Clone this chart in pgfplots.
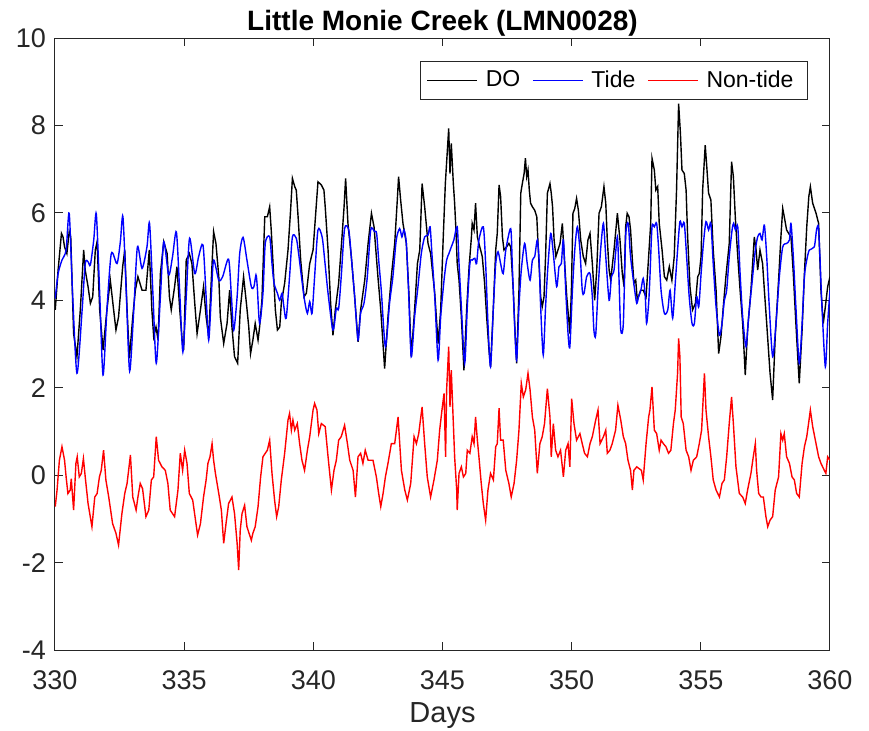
\documentclass[border=0pt]{standalone}
\usepackage{fontspec}
\setmainfont{Liberation Sans}
\usepackage{pgfplots}
\usepackage{pgfplotstable}
\pgfplotsset{compat=1.18}

\definecolor{axgray}{rgb}{0.15,0.15,0.15}

% Tidal component of dissolved oxygen
\pgfplotstableread{
d v
330.01 4.04
330.12 4.61
330.27 4.92
330.43 5.15
330.55 5.99
330.68 4.16
330.85 2.33
331.05 3.78
331.17 4.84
331.28 4.88
331.37 4.81
331.50 5.38
331.60 5.97
331.73 4.16
331.86 2.29
332.01 3.78
332.18 5.07
332.40 4.84
332.53 5.34
332.63 5.91
332.76 4.16
332.89 2.38
333.05 3.78
333.19 5.22
333.37 4.73
333.56 5.22
333.66 5.76
333.79 4.16
333.92 2.56
334.08 4.08
334.21 5.34
334.40 4.58
334.55 5.00
334.70 5.56
334.83 4.16
334.95 2.82
335.08 4.08
335.21 5.42
335.41 4.61
335.56 5.00
335.73 5.26
335.85 4.08
335.95 3.09
336.05 4.08
336.14 4.92
336.34 4.46
336.49 4.54
336.72 4.94
336.83 4.08
336.92 3.32
337.05 4.08
337.15 5.07
337.28 5.44
337.43 4.92
337.60 4.31
337.70 4.31
337.78 4.58
337.83 4.31
337.92 3.47
338.05 4.16
338.14 5.30
338.31 5.45
338.40 4.84
338.48 4.39
338.61 4.16
338.70 4.00
338.79 4.16
338.86 3.85
338.95 3.59
339.08 4.54
339.19 5.45
339.34 5.42
339.43 5.07
339.54 4.54
339.66 4.00
339.77 3.70
339.86 3.97
339.95 3.70
340.05 4.54
340.18 5.61
340.34 5.45
340.44 4.92
340.57 4.16
340.76 3.32
340.89 3.81
340.98 3.81
341.08 4.54
341.21 5.64
341.37 5.61
341.47 5.00
341.60 4.08
341.73 3.09
341.83 3.70
341.96 3.93
342.09 4.54
342.22 5.61
342.37 5.57
342.45 5.53
342.53 4.92
342.63 4.23
342.79 2.94
342.95 3.93
343.08 4.54
343.21 5.38
343.34 5.64
343.43 5.45
343.51 5.61
343.60 5.30
343.69 4.16
343.79 2.71
343.92 3.62
344.05 4.31
344.18 5.07
344.31 5.45
344.44 5.49
344.52 5.68
344.59 5.07
344.70 4.08
344.83 2.63
344.93 3.62
345.06 4.46
345.16 4.92
345.25 5.07
345.34 5.22
345.44 5.38
345.57 5.68
345.64 4.84
345.73 3.85
345.86 2.56
345.96 3.85
346.06 4.84
346.15 4.92
346.25 4.96
346.32 4.84
346.41 5.38
346.58 5.68
346.67 4.84
346.76 3.47
346.86 2.48
346.97 3.85
347.06 4.84
347.15 5.11
347.25 4.84
347.35 4.61
347.45 5.15
347.64 5.64
347.70 4.84
347.79 3.47
347.87 2.63
347.96 3.85
348.05 4.69
348.18 5.30
348.28 4.84
348.39 4.46
348.48 4.92
348.57 5.00
348.67 5.38
348.74 4.92
348.80 3.85
348.90 2.75
348.99 3.85
349.08 4.77
349.19 5.53
349.29 5.07
349.42 4.31
349.51 4.77
349.60 4.84
349.68 5.38
349.77 4.23
349.86 3.24
349.93 2.94
350.03 4.23
350.12 5.15
350.22 5.68
350.32 5.15
350.41 4.23
350.48 4.16
350.58 4.54
350.71 4.61
350.80 4.08
350.86 3.32
350.93 3.20
351.02 4.23
351.12 5.15
351.23 5.76
351.32 5.00
351.45 4.00
351.54 4.54
351.64 4.69
351.77 5.45
351.83 4.54
351.90 3.32
352.00 3.47
352.09 5.45
352.19 5.76
352.28 5.00
352.44 4.23
352.52 3.93
352.59 4.08
352.68 4.23
352.77 4.50
352.85 4.08
352.90 3.47
352.98 3.93
353.03 4.54
353.11 5.68
353.20 5.68
353.29 5.76
353.37 5.15
353.46 4.23
353.59 3.70
353.72 3.78
353.81 4.23
353.91 3.59
354.01 4.39
354.10 5.15
354.19 5.80
354.27 5.68
354.36 5.76
354.45 5.00
354.55 4.08
354.66 3.47
354.75 3.47
354.84 4.08
354.92 3.85
355.01 4.61
355.10 5.30
355.20 5.80
355.30 5.61
355.39 5.76
355.48 4.84
355.59 3.85
355.72 3.20
355.82 3.47
355.91 4.00
356.00 4.23
356.10 5.00
356.21 5.61
356.27 5.76
356.34 5.61
356.43 5.68
356.52 4.61
356.62 3.62
356.75 2.94
356.85 3.62
356.98 4.39
357.11 5.15
357.20 5.45
357.29 5.53
357.37 5.38
357.46 5.72
357.55 5.00
357.65 3.85
357.78 2.71
357.91 3.47
358.04 4.54
358.17 5.22
358.32 5.30
358.43 5.38
358.49 5.76
358.58 5.00
358.68 3.85
358.81 2.56
358.92 3.47
359.01 4.54
359.10 4.92
359.20 5.15
359.39 5.22
359.48 5.61
359.55 5.68
359.61 5.00
359.69 3.85
359.82 2.48
359.91 3.47
360.00 4.23
}\tidetable

% Measured dissolved oxygen
\pgfplotstableread{
d v
330.01 3.78
330.12 4.69
330.25 5.53
330.31 5.45
330.37 5.22
330.46 5.07
330.55 5.57
330.61 5.45
330.72 3.24
330.85 2.71
330.98 3.78
331.11 5.15
331.17 4.69
331.28 4.31
331.37 3.93
331.46 4.08
331.56 5.15
331.63 5.34
331.73 3.78
331.86 2.86
332.01 3.78
332.14 4.46
332.27 3.78
332.36 3.32
332.46 3.62
332.62 4.77
332.70 5.15
332.79 3.78
332.88 2.67
333.01 3.62
333.11 4.23
333.21 4.54
333.37 4.23
333.52 4.23
333.65 5.15
333.75 3.78
333.82 3.17
333.91 3.39
333.99 3.09
334.08 4.61
334.21 5.34
334.34 5.07
334.43 4.08
334.50 3.78
334.63 4.31
334.72 4.77
334.83 3.78
334.92 3.09
334.98 2.86
335.08 4.92
335.20 5.07
335.30 4.84
335.41 3.93
335.50 3.24
335.63 3.78
335.75 4.31
335.85 3.62
335.95 3.17
336.08 4.84
336.14 5.57
336.23 5.30
336.34 4.54
336.40 3.62
336.53 3.01
336.66 3.47
336.76 4.23
336.85 3.39
336.95 2.71
337.07 2.56
337.17 3.78
337.30 4.54
337.41 3.93
337.50 3.39
337.57 2.78
337.66 3.09
337.75 3.47
337.86 3.09
337.92 3.39
338.01 4.00
338.12 5.91
338.22 5.91
338.31 6.14
338.37 5.61
338.44 4.84
338.53 3.78
338.61 3.32
338.70 3.39
338.76 3.93
338.89 4.39
339.02 5.15
339.12 6.06
339.19 6.79
339.28 6.60
339.34 6.52
339.41 5.91
339.51 4.92
339.64 4.08
339.73 4.16
339.86 4.84
339.99 5.15
340.12 6.22
340.18 6.71
340.31 6.64
340.41 6.52
340.46 6.14
340.57 5.15
340.67 3.93
340.76 3.20
340.85 3.78
340.98 4.39
341.11 5.45
341.19 6.14
341.25 6.79
341.34 5.76
341.47 5.00
341.60 4.08
341.73 3.05
341.83 3.78
341.99 4.46
342.12 5.30
342.25 5.99
342.35 5.68
342.50 4.54
342.61 3.78
342.76 2.44
342.89 3.62
343.02 4.54
343.15 5.30
343.25 6.29
343.30 6.83
343.38 6.29
343.47 5.76
343.60 5.30
343.70 4.16
343.79 2.71
343.92 3.78
344.03 4.84
344.12 5.15
344.21 6.67
344.31 6.14
344.44 5.30
344.54 5.07
344.70 4.16
344.83 3.01
344.93 3.78
345.02 5.30
345.11 6.67
345.24 7.93
345.29 6.90
345.34 7.59
345.42 6.67
345.47 6.22
345.52 5.61
345.57 4.84
345.64 4.46
345.73 3.62
345.83 2.40
345.94 3.85
346.03 4.77
346.12 5.45
346.15 5.76
346.22 5.61
346.28 6.22
346.35 5.45
346.41 5.30
346.54 5.00
346.63 4.39
346.71 3.62
346.80 2.86
346.86 2.48
346.97 3.85
347.06 5.15
347.12 5.53
347.19 6.64
347.25 6.37
347.32 5.45
347.38 5.15
347.48 5.22
347.57 5.30
347.64 5.22
347.74 4.23
347.81 3.24
347.87 2.56
347.96 4.23
348.03 6.45
348.09 6.67
348.16 6.90
348.21 7.25
348.26 6.83
348.31 6.98
348.36 6.52
348.41 6.22
348.48 6.14
348.57 6.06
348.65 5.91
348.71 5.15
348.80 4.08
348.86 3.85
348.93 4.08
348.99 5.00
349.06 6.45
349.16 6.67
349.21 6.45
349.26 6.14
349.32 5.38
349.39 5.00
349.47 5.15
349.55 5.30
349.64 5.76
349.73 4.84
349.81 4.08
349.90 3.47
349.93 3.24
349.99 4.23
350.05 5.99
350.12 6.10
350.19 6.33
350.26 6.06
350.35 5.38
350.45 5.00
350.54 4.84
350.63 5.38
350.71 5.53
350.80 4.84
350.89 4.00
350.97 4.69
351.06 5.99
351.15 6.14
351.25 6.60
351.32 6.22
351.38 5.38
351.45 4.69
351.51 4.46
351.64 5.15
351.77 5.99
351.87 5.38
351.96 4.61
352.03 4.31
352.09 5.68
352.15 5.99
352.22 5.91
352.28 5.61
352.35 4.92
352.41 4.39
352.48 4.46
352.54 4.00
352.67 4.23
352.77 4.23
352.88 4.08
352.98 5.00
353.06 5.76
353.11 7.25
353.20 6.98
353.26 6.52
353.33 6.60
353.39 5.76
353.50 5.15
353.59 4.54
353.68 4.46
353.78 4.77
353.88 4.46
353.97 5.00
354.06 6.52
354.14 8.50
354.21 7.82
354.27 6.98
354.36 6.90
354.43 6.52
354.49 5.45
354.58 4.31
354.68 3.78
354.79 3.93
354.88 4.54
354.94 4.61
355.01 5.00
355.07 6.52
355.17 7.55
355.23 7.06
355.30 6.45
355.39 6.29
355.48 5.15
355.59 4.23
355.69 2.78
355.78 3.17
355.87 3.85
355.97 4.54
356.10 5.30
356.19 7.17
356.26 6.83
356.34 5.84
356.43 5.00
356.52 4.23
356.62 3.47
356.72 2.29
356.81 3.32
356.94 4.23
357.07 5.45
357.14 5.15
357.20 4.69
357.29 5.15
357.39 4.84
357.46 4.23
357.55 3.47
357.68 2.33
357.78 1.72
357.88 3.17
358.01 4.46
358.10 5.45
358.17 6.10
358.23 5.91
358.32 5.61
358.40 5.53
358.49 5.45
358.58 4.61
358.68 3.47
358.81 2.10
358.92 3.32
359.01 4.61
359.10 5.68
359.18 6.37
359.24 6.60
359.33 6.22
359.46 5.99
359.56 5.76
359.65 4.23
359.74 3.47
359.82 3.85
359.91 4.31
360.00 4.54
}\dotable

% Non-tidal residual
\pgfplotstableread{
d v
330.01 -0.72
330.08 -0.34
330.17 0.34
330.27 0.65
330.37 0.34
330.43 -0.04
330.50 -0.42
330.59 -0.34
330.63 -0.08
330.72 -0.80
330.81 0.27
330.86 0.42
330.94 -0.04
331.02 0.04
331.10 0.38
331.17 -0.04
331.28 -0.65
331.43 -1.18
331.54 -0.50
331.63 -0.42
331.72 -0.04
331.79 0.11
331.88 0.57
331.97 -0.11
332.08 -0.50
332.23 -1.11
332.36 -1.33
332.46 -1.60
332.59 -0.88
332.70 -0.42
332.79 -0.19
332.92 0.46
333.01 -0.50
333.14 -0.80
333.21 -0.50
333.30 -0.19
333.39 -0.31
333.52 -0.95
333.63 -0.80
333.73 -0.11
333.82 -0.04
333.92 0.88
334.01 0.34
334.14 0.19
334.27 0.11
334.37 -0.19
334.46 -0.80
334.63 -0.95
334.76 -0.34
334.85 0.50
334.94 0.11
335.02 0.57
335.11 0.27
335.20 -0.42
335.33 -0.57
335.52 -1.37
335.63 -1.11
335.75 -0.50
335.85 -0.11
335.92 0.27
336.00 0.42
336.08 0.72
336.14 0.34
336.21 0.04
336.34 -0.42
336.44 -0.80
336.53 -1.56
336.62 -1.11
336.72 -0.65
336.85 -0.50
336.95 -0.88
337.05 -1.56
337.11 -2.17
337.17 -1.26
337.24 -0.88
337.34 -0.69
337.43 -1.18
337.60 -1.49
337.66 -1.33
337.75 -1.18
337.86 -0.72
337.96 -0.04
338.05 0.42
338.14 0.50
338.22 0.57
338.31 0.80
338.40 0.04
338.50 -0.57
338.58 -0.95
338.66 -0.72
338.76 -0.11
338.89 0.50
339.02 1.26
339.08 1.41
339.15 1.03
339.21 1.26
339.28 1.03
339.38 1.18
339.47 0.72
339.56 0.34
339.66 0.11
339.77 0.57
339.86 0.88
339.99 1.49
340.05 1.64
340.14 1.49
340.21 0.95
340.31 1.18
340.46 1.11
340.57 0.42
340.70 -0.34
340.80 0.11
340.89 0.34
340.98 0.80
341.08 0.88
341.21 1.14
341.32 0.72
341.41 0.34
341.54 0.11
341.63 -0.50
341.73 0.42
341.83 0.50
341.92 0.27
342.01 0.57
342.12 0.34
342.31 0.34
342.44 -0.04
342.53 -0.42
342.61 -0.72
342.70 -0.42
342.79 -0.04
342.89 0.27
343.02 0.72
343.15 0.72
343.28 1.33
343.41 0.11
343.54 -0.34
343.64 -0.57
343.77 -0.19
343.90 0.88
343.99 0.72
344.08 0.95
344.21 1.56
344.31 0.72
344.41 -0.04
344.54 -0.50
344.67 -0.11
344.80 0.34
344.89 1.03
344.98 1.49
345.06 1.87
345.12 0.42
345.16 1.95
345.24 2.94
345.29 1.56
345.34 2.40
345.42 1.18
345.47 0.42
345.55 -0.34
345.57 -0.80
345.64 0.04
345.73 0.19
345.81 -0.04
345.90 0.04
345.96 0.57
346.06 0.50
346.15 0.88
346.22 0.72
346.28 1.33
346.35 0.80
346.41 0.42
346.50 -0.19
346.58 -0.65
346.67 -1.03
346.76 -0.34
346.86 0.04
346.97 -0.11
347.06 0.65
347.12 0.72
347.19 1.53
347.25 0.80
347.35 0.80
347.45 0.11
347.57 -0.19
347.66 -0.50
347.77 -0.19
347.87 0.34
347.96 1.03
348.05 2.10
348.13 1.79
348.22 1.95
348.31 2.33
348.39 1.95
348.48 1.33
348.57 1.03
348.67 0.04
348.77 0.72
348.86 0.88
348.95 1.18
349.06 1.98
349.16 1.33
349.21 0.42
349.29 1.18
349.38 0.57
349.47 0.42
349.57 0.57
349.68 -0.04
349.77 0.57
349.86 0.72
349.93 0.19
350.00 1.75
350.09 1.18
350.19 0.80
350.32 0.95
350.41 0.72
350.50 0.50
350.61 0.42
350.71 0.72
350.80 0.88
350.93 1.26
351.02 1.49
351.10 0.72
351.23 0.88
351.32 1.03
351.38 0.50
351.48 0.57
351.57 0.72
351.70 1.03
351.79 1.60
351.90 1.26
352.00 0.88
352.09 0.72
352.18 0.34
352.28 0.11
352.35 -0.34
352.41 0.11
352.52 0.19
352.70 0.11
352.77 -0.11
352.88 0.72
352.98 1.33
353.03 1.49
353.11 2.02
353.20 1.03
353.29 0.95
353.39 0.57
353.46 0.80
353.55 0.72
353.65 0.65
353.75 0.50
353.84 0.57
353.94 1.18
354.01 1.49
354.10 2.33
354.14 3.13
354.19 2.71
354.24 1.33
354.32 1.18
354.43 0.57
354.53 0.42
354.62 0.11
354.71 0.34
354.84 0.42
354.94 0.72
355.03 1.03
355.14 2.33
355.20 1.49
355.30 0.88
355.39 0.42
355.48 -0.11
355.59 -0.34
355.72 -0.50
355.82 -0.19
355.91 -0.11
356.00 0.42
356.10 1.18
356.19 1.79
356.26 1.18
356.36 0.19
356.49 -0.42
356.62 -0.50
356.72 -0.65
356.81 -0.34
356.94 0.04
357.03 0.42
357.11 0.72
357.16 0.11
357.24 -0.42
357.33 -0.50
357.42 -0.50
357.52 -0.95
357.59 -1.18
357.68 -1.03
357.78 -0.95
357.88 -0.34
358.01 -0.04
358.10 0.95
358.17 0.80
358.23 0.95
358.32 0.42
358.43 0.27
358.53 -0.04
358.62 -0.11
358.71 -0.42
358.81 -0.50
358.92 0.27
359.01 0.65
359.10 0.88
359.17 1.18
359.24 1.49
359.33 1.11
359.46 0.72
359.56 0.42
359.65 0.27
359.78 0.11
359.84 0.04
359.91 0.42
360.00 0.34
}\nontidetable

\begin{document}
\begin{tikzpicture}
% fixed canvas: 434.5pt x 365pt, axis box offset (27.5pt, 40pt)
\useasboundingbox (-27.5pt,-40pt) rectangle (407pt,325pt);
\begin{axis}[
  scale only axis,
  width=387.5pt, height=306pt,
  xmin=330, xmax=360, ymin=-4, ymax=10,
  xtick={330,335,...,360},
  ytick={-4,-2,...,10},
  tick align=inside,
  tick pos=both,
  major tick length=4pt,
  axis line style={draw=axgray, line width=0.5pt},
  every tick/.style={draw=axgray, line width=0.5pt},
  /pgf/number format/assume math mode=true,
  ticklabel style={font=\fontsize{13.5}{15}\selectfont, text=axgray},
  xticklabel style={anchor=base, yshift=-19.5pt},
  yticklabel style={anchor=east, xshift=-1pt},
  title={Little Monie Creek (LMN0028)},
  title style={at={(0.5,1)}, anchor=base, yshift=-2.5pt,
    font=\bfseries\fontsize{14}{16}\selectfont},
  xlabel={Days},
  xlabel style={at={(0.5,0)}, anchor=base, yshift=-36pt,
    font=\fontsize{14.5}{16}\selectfont, text=axgray},
  legend columns=3,
  legend style={
    at={(0.9716,0.9624)}, anchor=north east,
    draw=axgray, line width=0.5pt, fill=white,
    font=\fontsize{11.5}{13}\selectfont,
    inner xsep=3pt, inner ysep=2.5pt,
    nodes={inner xsep=4pt},
    /tikz/every even column/.append style={column sep=2pt},
  },
  legend image code/.code={\draw[#1, line width=0.6pt] (0pt,0pt) -- (25pt,0pt);},
  legend cell align=left,
]
\addplot[black, line width=0.7pt] table[x=d, y=v] {\dotable};
\addlegendentry{DO}
\addplot[blue, line width=0.7pt, smooth, tension=0.45] table[x=d, y=v] {\tidetable};
\addlegendentry{Tide}
\addplot[red, line width=0.7pt] table[x=d, y=v] {\nontidetable};
\addlegendentry{Non-tide}
\end{axis}
\end{tikzpicture}
\end{document}
